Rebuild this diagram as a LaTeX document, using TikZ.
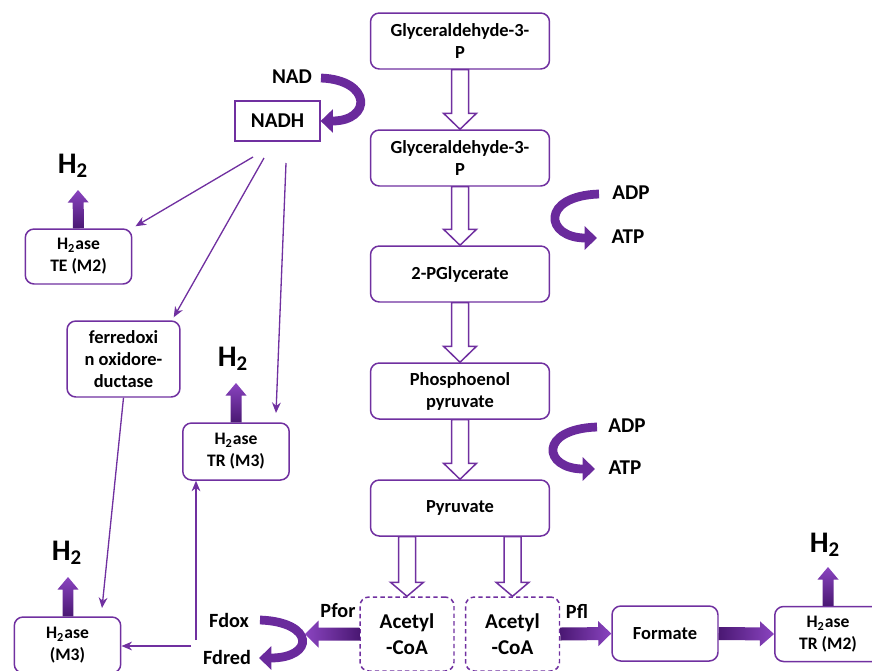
\documentclass[tikz,border=0pt]{standalone}
\usepackage{fontspec}
\setmainfont{Carlito}
\usetikzlibrary{calc,arrows.meta}
\definecolor{pp}{HTML}{7030A0}
\definecolor{ppdark}{HTML}{4A1873}
\definecolor{pplight}{HTML}{8A44C0}
\definecolor{ribbonc}{HTML}{6A2A9C}

% block arrow: [style]{start}{end}{shaft half width}{head half width}{head length}
\newcommand\blockarrow[6][]{%
  \coordinate (ba-h) at ($(#3)!#6!(#2)$);
  \path[#1] ($(#2)!#4!90:(#3)$) -- ($(ba-h)!#4!90:(#3)$) -- ($(ba-h)!#5!90:(#3)$)
    -- (#3) -- ($(ba-h)!#5!-90:(#3)$) -- ($(ba-h)!#4!-90:(#3)$)
    -- ($(#2)!#4!-90:(#3)$) -- cycle;}

\begin{document}
\begin{tikzpicture}[x=0.02cm,y=-0.02cm,
  box/.style={draw=pp, line width=0.85pt, rounded corners=5pt, fill=white,
    align=center, inner sep=2pt, font=\bfseries\fontsize{10.5}{12.5}\selectfont},
  mainbox/.style={box, minimum width=3.58cm, minimum height=1.12cm},
  hbox/.style={box, minimum width=2.13cm, minimum height=1.1cm,
    font=\bfseries\fontsize{10}{12.5}\selectfont},
  dbox/.style={box, dash pattern=on 2.5pt off 1.8pt, minimum width=1.88cm,
    minimum height=1.48cm, font=\bfseries\fontsize{12}{14.5}\selectfont},
  lbl/.style={font=\bfseries\fontsize{12}{14}\selectfont, inner sep=1pt},
  hlbl/.style={font=\bfseries\fontsize{11.5}{14}\selectfont, inner sep=1pt},
  htwo/.style={font=\bfseries\fontsize{17}{19}\selectfont, inner sep=1pt},
  thin/.style={draw=pp, line width=0.75pt, -{Stealth[length=6pt,width=5pt]}},
  ribbon/.style={draw=ribbonc, line width=5pt, -{Triangle[length=7pt,width=13pt]}},
  hollow/.style={draw=pp, line width=0.85pt, fill=white},
  fatup/.style={bottom color=ppdark, top color=pplight},
  fatleft/.style={right color=ppdark, left color=pplight},
  fatright/.style={left color=ppdark, right color=pplight}]
\useasboundingbox (0,0) rectangle (872,670);

% glycolysis chain
\node[mainbox] (g1) at (460,41) {Glyceraldehyde-3-\\P};
\node[mainbox] (g2) at (460,158) {Glyceraldehyde-3-\\P};
\node[mainbox] (pg) at (460,274) {2-PGlycerate};
\node[mainbox] (pep) at (460,391) {Phosphoenol\\pyruvate};
\node[mainbox] (pyr) at (460,508) {Pyruvate};

\node[dbox] (ac1) at (407,634) {Acetyl\\-CoA};
\node[dbox] (ac2) at (512.5,634) {Acetyl\\-CoA};
\node[box, minimum width=2.12cm, minimum height=1.1cm] (form) at (665,633.5) {Formate};

% hydrogenases and ferredoxin
\node[hbox] (trm2) at (828,634) {H\textsubscript{2}ase\\TR (M2)};
\node[hbox, minimum height=1.12cm] (m3) at (67.5,645) {H\textsubscript{2}ase\\(M3)};
\node[hbox] (te) at (78.5,256.5) {H\textsubscript{2}ase\\TE (M2)};
\node[hbox, minimum height=1.14cm] (trm3) at (236,451.5) {H\textsubscript{2}ase\\TR (M3)};
\node[box, minimum width=2.26cm, minimum height=1.52cm] (fr) at (123.5,359)
  {ferredoxi\\n oxidore-\\ductase};
\node[draw=pp, line width=0.7pt, minimum width=1.7cm, minimum height=0.8cm,
  font=\bfseries\fontsize{12}{14}\selectfont] (nadh) at (277.5,121) {NADH};

% labels
\node[lbl] (nad) at (292,77) {NAD};
\node[lbl] (adp1) at (631,193) {ADP};
\node[lbl] (atp1) at (628,237) {ATP};
\node[lbl] (adp2) at (627,426) {ADP};
\node[lbl] (atp2) at (625,468) {ATP};
\node[hlbl] (fdox) at (229,620) {Fdox};
\node[hlbl] (fdred) at (227,657) {Fdred};
\node[hlbl] (pfor) at (338,611) {Pfor};
\node[hlbl] (pfl) at (577,611) {Pfl};
\node[htwo] (h2a) at (73,166) {H\textsubscript{2}};
\node[htwo] (h2b) at (233,359) {H\textsubscript{2}};
\node[htwo] (h2c) at (67,553) {H\textsubscript{2}};
\node[htwo] (h2d) at (825,545) {H\textsubscript{2}};

% hollow arrows of the chain
\blockarrow[hollow]{g1.south}{g2.north}{0.17cm}{0.33cm}{0.32cm}
\blockarrow[hollow]{g2.south}{pg.north}{0.17cm}{0.33cm}{0.32cm}
\blockarrow[hollow]{pg.south}{pep.north}{0.17cm}{0.33cm}{0.32cm}
\blockarrow[hollow]{pep.south}{pyr.north}{0.17cm}{0.33cm}{0.32cm}
\coordinate (p1) at (pyr.south -| ac1.north);
\coordinate (p2) at (pyr.south -| ac2.north);
\blockarrow[hollow]{p1}{ac1.north}{0.17cm}{0.33cm}{0.28cm}
\blockarrow[hollow]{p2}{ac2.north}{0.17cm}{0.33cm}{0.28cm}

% thick arrows
\coordinate (ac1w) at (ac1.west);
\coordinate (pfor-tip) at (305,634);
\blockarrow[fatleft]{ac1w}{pfor-tip}{0.13cm}{0.27cm}{0.27cm}
\coordinate (ac2e) at (ac2.east);
\coordinate (form-w) at (form.west);
\blockarrow[fatright]{ac2e}{form-w}{0.13cm}{0.25cm}{0.26cm}
\coordinate (form-e) at (form.east);
\coordinate (trm2-w) at (trm2.west);
\blockarrow[fatright]{form-e}{trm2-w}{0.13cm}{0.25cm}{0.28cm}

\coordinate (te-n) at (te.north);
\coordinate (te-up) at (78,190);
\blockarrow[fatup]{te-n}{te-up}{0.11cm}{0.21cm}{0.25cm}
\coordinate (trm3-n) at (trm3.north);
\coordinate (trm3-up) at (236,383);
\blockarrow[fatup]{trm3-n}{trm3-up}{0.11cm}{0.21cm}{0.25cm}
\coordinate (m3-n) at (m3.north -| 68,0);
\coordinate (m3-up) at (68,577);
\blockarrow[fatup]{m3-n}{m3-up}{0.11cm}{0.21cm}{0.25cm}
\coordinate (trm2-n) at (trm2.north);
\coordinate (trm2-up) at (828,567);
\blockarrow[fatup]{trm2-n}{trm2-up}{0.11cm}{0.21cm}{0.25cm}

% curved cofactor arrows
\coordinate (nad-s) at (321,78);
\draw[ribbon] (nad-s) .. controls (372,80) and (372,121) .. (nadh.east);
\coordinate (r1s) at (599,194);
\coordinate (r1e) at (597,238);
\draw[ribbon] (r1s) .. controls (540,196) and (545,238) .. (r1e);
\coordinate (r2s) at (597,427);
\coordinate (r2e) at (595,469);
\draw[ribbon] (r2s) .. controls (538,429) and (543,469) .. (r2e);
\coordinate (fd-s) at (260,620);
\coordinate (fd-e) at (259,658);
\draw[ribbon] (fd-s) .. controls (315,622) and (315,658) .. (fd-e);

% electron flow connectors
\coordinate (n1) at (253,157);
\coordinate (n2) at (264,158);
\coordinate (n3) at (286,163);
\coordinate (t3) at (276,413);
\coordinate (m3t) at (102,608);
\draw[thin] (n1) -- ($(te.north east)+(3,-2)$);
\draw[thin] (n2) -- ($(fr.north east)+(-7,-3)$);
\draw[thin] (n3) -- (t3);
\draw[thin] (fr.south) -- (m3t);
\coordinate (fdv) at (196,640);
\draw[thin] (fdv) -- (fdv |- trm3.south);
\coordinate (fdh) at (191,646);
\draw[thin] (fdh) -- (fdh -| m3.east);
\end{tikzpicture}
\end{document}
